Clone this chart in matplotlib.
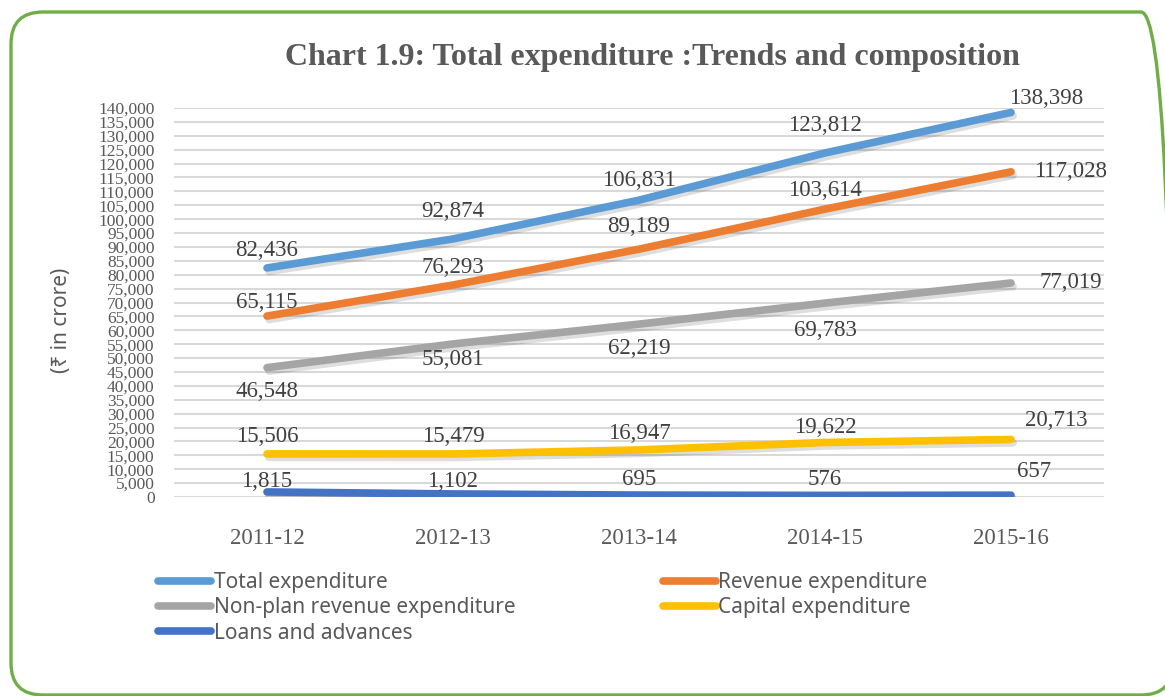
import matplotlib
matplotlib.use("Agg")
import matplotlib.pyplot as plt
import matplotlib.patches as mpatches
import matplotlib.patheffects as pe
from matplotlib.transforms import IdentityTransform
from matplotlib.ticker import MultipleLocator, FuncFormatter

years = ['2011-12', '2012-13', '2013-14', '2014-15', '2015-16']
total_exp = [82436, 92874, 106831, 123812, 138398]
revenue_exp = [65115, 76293, 89189, 103614, 117028]
nonplan_rev_exp = [46548, 55081, 62219, 69783, 77019]
capital_exp = [15506, 15479, 16947, 19622, 20713]
loans_adv = [1815, 1102, 695, 576, 657]

series = [
    ('Total expenditure', total_exp, '#5B9BD5'),
    ('Revenue expenditure', revenue_exp, '#ED7D31'),
    ('Non-plan revenue expenditure', nonplan_rev_exp, '#A5A5A5'),
    ('Capital expenditure', capital_exp, '#FFC000'),
    ('Loans and advances', loans_adv, '#4472C4'),
]

# label offsets in pixels (dx, dy) for each point
offsets = [
    [(0, 17), (0, 27), (0, 20), (0, 27), (35, 14)],
    [(0, 14), (0, 18), (0, 23), (0, 19), (60, 0)],
    [(0, -24), (0, -16), (0, -24), (0, -27), (60, 0)],
    [(0, 17), (0, 17), (0, 16), (0, 15), (45, 19)],
    [(0, 10), (0, 12), (0, 16), (0, 16), (23, 24)],
]

fig = plt.figure(figsize=(11.65, 6.96), dpi=100)
ax = fig.add_axes([174 / 1165, 1 - 497 / 696, 930 / 1165, 389 / 696])

x = list(range(len(years)))
handles = {}
for (name, vals, col), offs in zip(series, offsets):
    ln, = ax.plot(x, vals, color=col, lw=5.5, solid_capstyle='round', label=name,
                  path_effects=[pe.SimpleLineShadow(offset=(1.5, -2.5), alpha=0.13, shadow_color='black'),
                                pe.Normal()], zorder=3)
    handles[name] = ln
    for xi, v, (dx, dy) in zip(x, vals, offs):
        ax.annotate(f'{v:,}', (xi, v), xytext=(dx, dy), textcoords='offset pixels',
                    ha='center', va='center', fontsize=16.5, family='Liberation Serif',
                    color='#404040', zorder=4)

ax.set_xlim(-0.5, 4.5)
ax.set_ylim(0, 140000)
ax.yaxis.set_major_locator(MultipleLocator(5000))
ax.yaxis.set_major_formatter(FuncFormatter(lambda v, p: f'{int(v):,}'))
ax.set_xticks(x)
ax.set_xticklabels(years)
ax.grid(axis='y', color='#D9D9D9', lw=1.5)
ax.set_axisbelow(True)
for s in ax.spines.values():
    s.set_visible(False)
ax.tick_params(length=0)
ax.tick_params(axis='y', labelsize=12.5, labelcolor='#595959', pad=14)
ax.tick_params(axis='x', labelsize=16.5, labelcolor='#595959', pad=22)
for t in ax.get_yticklabels() + ax.get_xticklabels():
    t.set_family('Liberation Serif')

fig.text(62 / 1165, 1 - 320 / 696, '(₹ in crore)', rotation=90, ha='center', va='center',
         fontsize=15, family=['Noto Sans', 'DejaVu Sans'], color='#595959')

fig.text(652 / 1165, 1 - 58 / 696, 'Chart 1.9: Total expenditure :Trends and composition',
         ha='center', va='center', fontsize=23, fontweight='bold',
         family='Liberation Serif', color='#595959')

order = ['Total expenditure', 'Non-plan revenue expenditure', 'Loans and advances',
         'Revenue expenditure', 'Capital expenditure']
leg = fig.legend([handles[n] for n in order], order, ncol=2, loc='upper left',
                 bbox_to_anchor=(150 / 1165, 1 - 564 / 696), frameon=False,
                 prop={'family': 'Noto Sans', 'size': 15}, handlelength=2.55,
                 handletextpad=0.1, columnspacing=7.1, labelspacing=0.2,
                 borderaxespad=0)
for t in leg.get_texts():
    t.set_color('#595959')
for h in leg.legend_handles:
    h.set_path_effects([])

border = mpatches.FancyBboxPatch((11, 1), 1162, 683, boxstyle='round,pad=0,rounding_size=32',
                                 transform=IdentityTransform(), fill=False,
                                 edgecolor='#70AD47', lw=2.4)
fig.patches.append(border)

fig.savefig('out.png', dpi=100)
